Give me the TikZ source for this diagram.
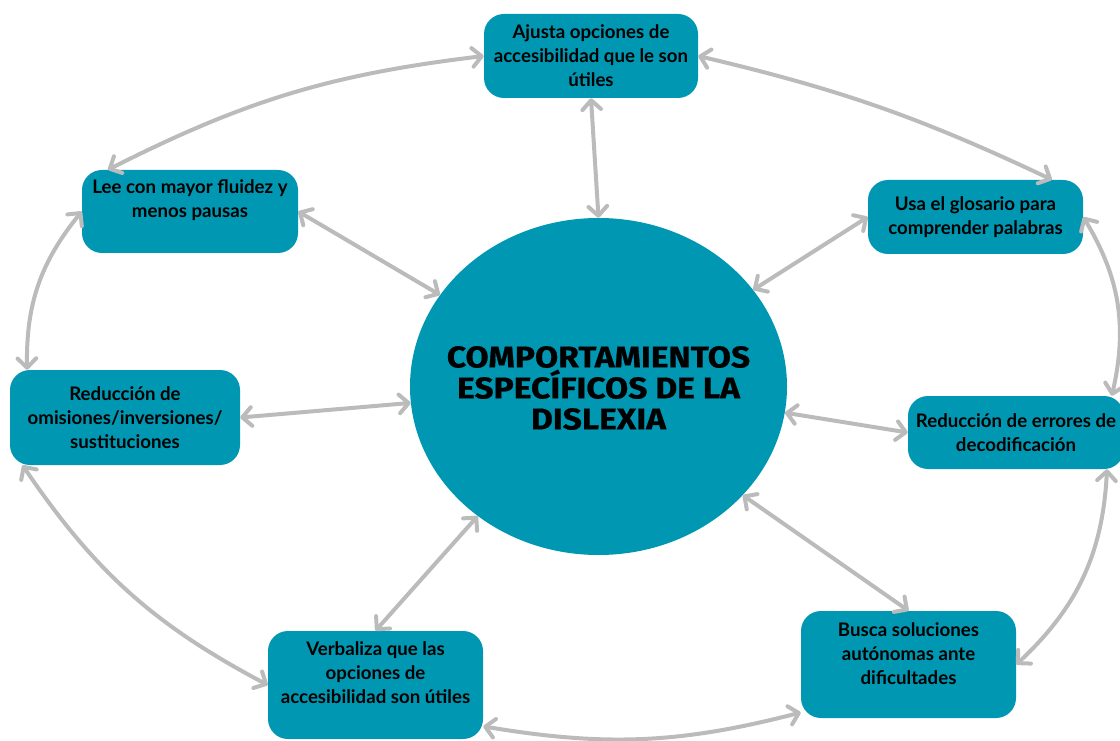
\documentclass[tikz,border=0pt]{standalone}
\usepackage{fontspec}
\setmainfont{Lato}
\newfontfamily\titlefont[FakeStretch=1.12, BoldFeatures={FakeBold=0.6}]{Fira Sans}
\usetikzlibrary{arrows.meta,shapes.geometric}
\definecolor{boxteal}{HTML}{0097B2}
\definecolor{arrgray}{HTML}{BBBBBB}
\begin{document}
\begin{tikzpicture}[x=0.75pt,y=-0.75pt,
  box/.style={fill=boxteal, rounded corners=15pt, inner sep=0pt, draw=none},
  lbl/.style={font=\fontsize{14}{18}\selectfont\bfseries, align=center, text=black, inner sep=0pt},
  link/.style={draw=arrgray, line width=3pt,
    {Straight Barb[round,length=7pt,width=14pt]}-{Straight Barb[round,length=7pt,width=14pt]}},
]
\useasboundingbox (0,0) rectangle (1120,741);

% centre
\node[ellipse, fill=boxteal, minimum width=282.75pt, minimum height=252.75pt, inner sep=0pt] (ell) at (598.5,386.5) {};
\node[font=\titlefont\bfseries\fontsize{22.5}{23.25}\selectfont, align=center, inner sep=0pt] (title) at (598.5,388) {COMPORTAMIENTOS\\ESPECÍFICOS DE LA\\DISLEXIA};

% boxes
\node[box, minimum width=160.5pt, minimum height=63pt] (aj) at (591,56) {};
\node[box, minimum width=162pt, minimum height=62.25pt] (lee) at (190,211.5) {};
\node[box, minimum width=161.25pt, minimum height=55.5pt] (usa) at (975.5,217) {};
\node[box, minimum width=172.5pt, minimum height=71.25pt] (omis) at (125,417.5) {};
\node[box, minimum width=162pt, minimum height=54.75pt] (err) at (1016,432.5) {};
\node[box, minimum width=161.25pt, minimum height=81pt] (verb) at (375.5,685) {};
\node[box, minimum width=161.25pt, minimum height=80.25pt] (busca) at (908.5,664.5) {};

% labels
\node[lbl] (ajt) at (591,56) {Ajusta opciones de\\accesibilidad que le son\\útiles};
\node[lbl] (leet) at (190,200) {Lee con mayor fluidez y\\menos pausas};
\node[lbl] (usat) at (975.5,217) {Usa el glosario para\\comprender palabras};
\node[lbl] (omist) at (125,417.5) {Reducción de\\omisiones/inversiones/\\sustituciones};
\node[lbl] (errt) at (1016,432.5) {Reducción de errores de\\decodificación};
\node[lbl] (verbt) at (375.5,672.5) {Verbaliza que las\\opciones de\\accesibilidad son útiles};
\node[lbl] (buscat) at (908.5,653.5) {Busca soluciones\\autónomas ante\\dificultades};

% spokes
\draw[link] (aj.south) -- (ell.90);
\draw[link] (lee.east) -- (ell.150);
\draw[link] (usa.west) -- (ell.32);
\draw[link] (omis.east) -- (ell.185);
\draw[link] (err.west) -- (ell.352);
\draw[link] (busca.north) -- (ell.323.5);
\draw[link] (verb.north) -- (ell.227.5);

% ring
\draw[link] (aj.west) to[bend right=10] (lee.153);
\draw[link] (aj.east) to[bend left=6] (usa.26);
\draw[link] (usa.east) to[bend left=22] (err.21);
\draw[link] (err.-22) to[bend left=22] (busca.east);
\draw[link] (busca.204) to[bend left=12] (verb.-21);
\draw[link] (verb.west) to[bend left=14] (omis.205);
\draw[link] (omis.154) to[bend left=20] (lee.west);
\end{tikzpicture}
\end{document}
